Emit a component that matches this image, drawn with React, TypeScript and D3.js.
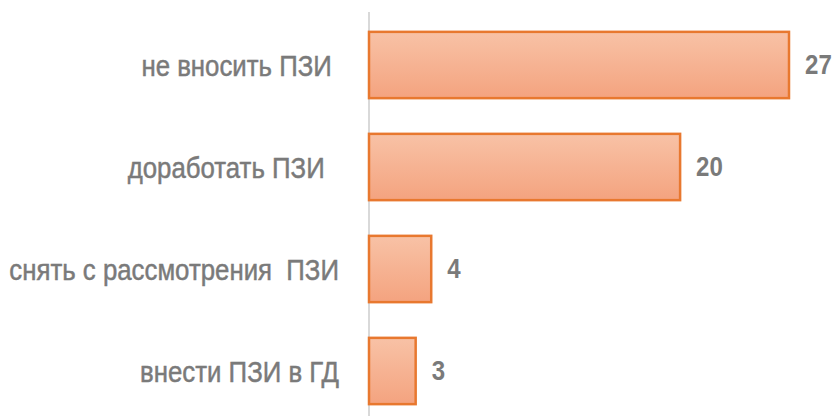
import React from "react";
import * as d3 from "d3";

const categories = ["не вносить ПЗИ ", "доработать ПЗИ  ", "снять с рассмотрения  ПЗИ", "внести ПЗИ в ГД"];
const values = [27, 20, 4, 3];

const W = 832;
const H = 416;

export default function App() {
  const y = d3.scaleBand<number>().domain(d3.range(categories.length)).range([14, 422]).paddingInner(0.35).paddingOuter(0.175);
  const x = d3.scaleLinear().domain([0, 27]).range([369, 789]);
  const font = "'Liberation Sans', Arial, sans-serif";
  const sx = 0.86;
  return (
    <svg width={W} height={H} style={{ position: "absolute", left: 0, top: 0, background: "#fff" }}>
      <defs>
        <linearGradient id="barGrad" x1="0" y1="0" x2="0" y2="1">
          <stop offset="0" stopColor="#f8c2a6" />
          <stop offset="1" stopColor="#f4a37f" />
        </linearGradient>
      </defs>
      <line x1={x(0)} x2={x(0)} y1={12} y2={H} stroke="#d9d9d9" strokeWidth={2} />
      {values.map((v, i) => {
        const by = y(i)!;
        const bh = y.bandwidth();
        const cy = by + bh / 2;
        return (
          <g key={i}>
            <rect x={x(0)} y={by} width={x(v) - x(0)} height={bh} fill="url(#barGrad)" stroke="#e8782f" strokeWidth={2.5} />
            <text transform={`translate(339,${cy}) scale(${sx},1)`} dy="0.35em" textAnchor="end" fontFamily={font} fontSize={30} fill="#7a7a7a" stroke="#7a7a7a" strokeWidth={0.5} style={{ whiteSpace: "pre" }}>
              {categories[i]}
            </text>
            <text transform={`translate(${x(v) + 16},${cy - 1}) scale(${sx},1)`} dy="0.35em" fontFamily={font} fontWeight="bold" fontSize={28} fill="#7a7a7a">
              {v}
            </text>
          </g>
        );
      })}
    </svg>
  );
}
